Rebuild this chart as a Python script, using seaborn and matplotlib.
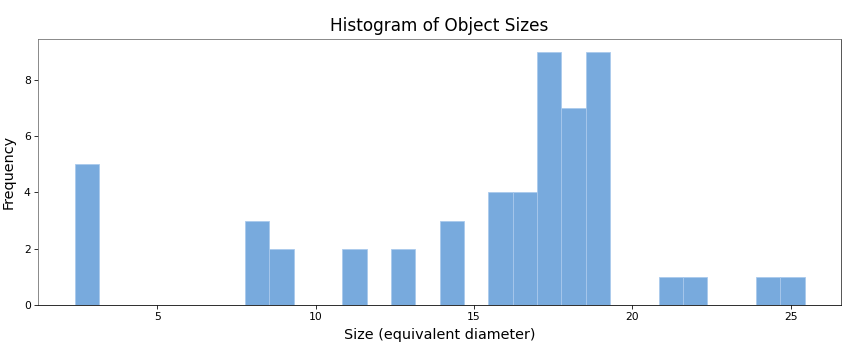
import numpy as np
import pandas as pd
import matplotlib.pyplot as plt
import seaborn as sns

# histogram of object sizes (30 equal bins)
size_min = 2.38
size_max = 25.44
n_bins = 30
bin_counts = [5, 0, 0, 0, 0, 0, 0, 3, 2, 0,
              0, 2, 0, 2, 0, 3, 0, 4, 4, 9,
              7, 9, 0, 0, 1, 1, 0, 0, 1, 1]

edges = np.linspace(size_min, size_max, n_bins + 1)
df = pd.DataFrame({
    "size": (edges[:-1] + edges[1:]) / 2,
    "count": bin_counts,
})

plt.rcParams["font.family"] = ["DejaVu Sans"]

fig, ax = plt.subplots(figsize=(12, 5), dpi=72)
fig.subplots_adjust(left=38 / 864, right=841 / 864, top=1 - 39 / 360, bottom=1 - 305 / 360)

sns.histplot(
    data=df,
    x="size",
    weights="count",
    bins=list(edges),
    color="#78aadd",
    alpha=1,
    edgecolor="#a9c9ec",
    linewidth=0.8,
    ax=ax,
)

ax.set_title("Histogram of Object Sizes", fontsize=16.9, pad=8)
ax.set_xlabel("Size (equivalent diameter)", fontsize=14.4, labelpad=6)
ax.set_ylabel("Frequency", fontsize=14.4, labelpad=8)
ax.tick_params(labelsize=10.7, length=3.7)

ax.spines["top"].set_color("#707070")
ax.spines["left"].set_color("#707070")
ax.spines["right"].set_color("#303030")
ax.spines["bottom"].set_color("black")

plt.savefig("out.png", dpi=72)
plt.close()
